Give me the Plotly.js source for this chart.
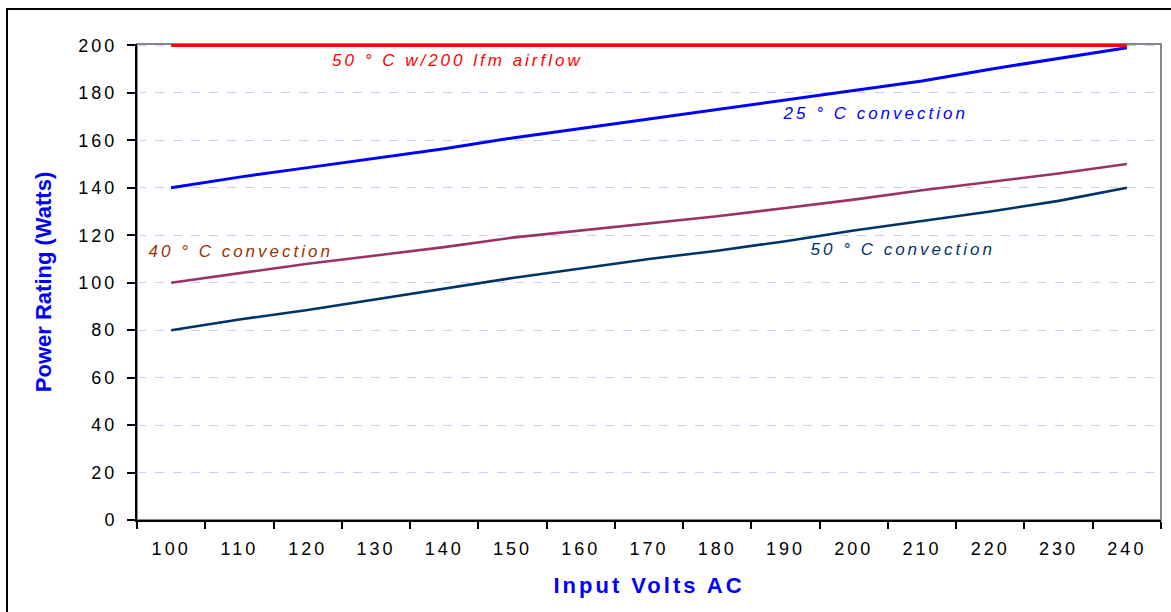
<!DOCTYPE html>
<html>
<head>
<meta charset="utf-8">
<script src="https://cdn.plot.ly/plotly-3.0.1.min.js"></script>
<style>
html,body{margin:0;padding:0;background:#fff;}
#chart{width:1171px;height:612px;}
</style>
</head>
<body>
<div id="chart"></div>
<script>
// ---- data ----
var volts = ['100','110','120','130','140','150','160','170','180','190','200','210','220','230','240'];
var airflow50 = [200,200,200,200,200,200,200,200,200,200,200,200,200,200,200];
var conv25 = [140,144.5,148.5,152.5,156.5,161,165,169,173,177,181,185,190,194.5,199];
var conv40 = [100,104,108,111.5,115,119,122,125,128,131.5,135,139,142.5,146,150];
var conv50 = [80,84.5,88.5,93,97.5,102,106,110,113.5,117.5,122,126,130,134.5,140];
var seriesNames = ['50 ° C w/200 lfm airflow','25 ° C convection','40 ° C convection','50 ° C convection'];
var yTicks = [0,20,40,60,80,100,120,140,160,180,200];

// ---- geometry helpers (pixel -> paper) ----
var L = 137, R = 1161, T = 44, B = 520;
function px(x){ return (x - L) / (R - L); }
function py(y){ return (B - y) / (B - T); }

var traces = [
  {x: volts, y: conv50, name: seriesNames[3], mode: 'lines', line: {color: '#003366', width: 2.6}},
  {x: volts, y: conv40, name: seriesNames[2], mode: 'lines', line: {color: '#993366', width: 2.6}},
  {x: volts, y: conv25, name: seriesNames[1], mode: 'lines', line: {color: '#0000FF', width: 3}},
  {x: volts, y: airflow50, name: seriesNames[0], mode: 'lines', line: {color: '#FF0000', width: 3}}
];

var annFont = {family: 'Arial, Liberation Sans, sans-serif', size: 17, style: 'italic'};
function ann(text, cx, cy, color){
  return {text: text, xref: 'paper', yref: 'paper', x: px(cx), y: py(cy),
    xanchor: 'center', yanchor: 'middle', showarrow: false,
    font: Object.assign({}, annFont, {color: color})};
}

var layout = {
  width: 1171, height: 612,
  margin: {l: L, r: 1171 - R, t: T, b: 612 - B, pad: 0},
  paper_bgcolor: '#ffffff', plot_bgcolor: '#ffffff',
  showlegend: false,
  font: {family: 'Arial, Liberation Sans, sans-serif', color: '#000'},
  xaxis: {
    type: 'category', range: [-0.5, volts.length - 0.5], tickson: 'boundaries',
    ticks: 'outside', ticklen: 7, tickwidth: 2, tickcolor: '#000',
    showline: true, linecolor: '#000', linewidth: 2, showgrid: false, zeroline: false,
    tickfont: {size: 18, color: '#000'}, ticklabelstandoff: 11,
    title: {text: 'Input Volts AC', font: {size: 22, color: '#0000FF', weight: 'bold'}, standoff: 20}
  },
  yaxis: {
    range: [0, 200.6], tickvals: yTicks, ticktext: yTicks.map(String),
    ticks: 'outside', ticklen: 8, tickwidth: 2, tickcolor: '#000',
    showline: true, linecolor: '#000', linewidth: 2, zeroline: false,
    showgrid: true, gridcolor: 'rgb(204,204,255)', griddash: 'dash', gridwidth: 1,
    tickfont: {size: 18, color: '#000'}, ticklabelstandoff: 6,
    title: {text: 'Power Rating (Watts)', font: {size: 22, color: '#0000FF', weight: 'bold'}, standoff: 30}
  },
  shapes: [
    {type: 'rect', xref: 'paper', yref: 'paper', x0: 0, x1: 1, y0: 0, y1: 1,
     line: {color: '#888888', width: 2}, layer: 'below'},
    {type: 'rect', xref: 'paper', yref: 'paper', x0: px(7), x1: px(1190), y0: py(640), y1: py(9),
     line: {color: '#000000', width: 2}, layer: 'below'}
  ],
  annotations: [
    ann(seriesNames[0], 458, 60, '#FF0000'),
    ann(seriesNames[1], 875, 113, '#0000FF'),
    ann(seriesNames[2], 240, 251, '#993300'),
    ann(seriesNames[3], 902, 249, '#003366')
  ]
};

Plotly.newPlot('chart', traces, layout, {displayModeBar: false, staticPlot: true}).then(function(){
  function sp(sel, v){ document.querySelectorAll(sel).forEach(function(el){ el.style.letterSpacing = v; }); }
  sp('.xtick text', '3px');
  sp('.ytick text', '3px');
  sp('.g-xtitle text', '3px');
  sp('.annotation-text', '3px');
});
</script>
</body>
</html>
